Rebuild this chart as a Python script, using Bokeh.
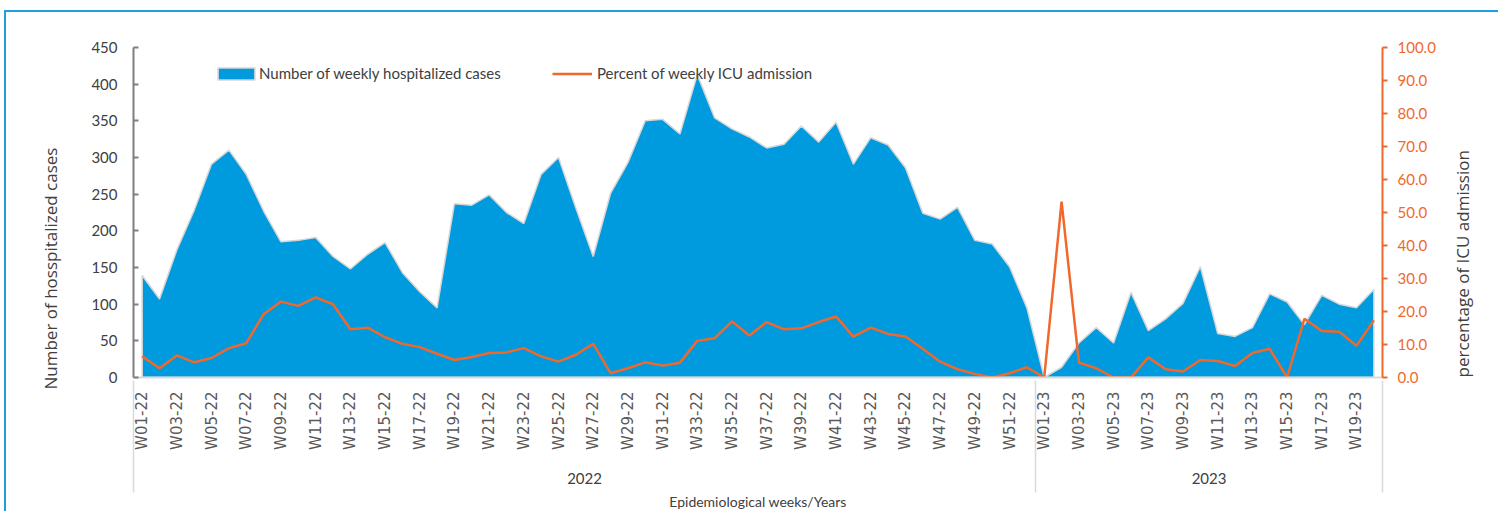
import math
from bokeh.plotting import figure
from bokeh.models import (Range1d, LinearAxis, FixedTicker, NumeralTickFormatter,
                          Legend, LegendItem, Title)
from bokeh.embed import file_html
from bokeh.resources import INLINE

# ---------------- data ----------------
weeks_2022 = ["W%02d-22" % i for i in range(1, 53)]
weeks_2023 = ["W%02d-23" % i for i in range(1, 21)]
years = ["2022", "2023"]

cases_2022 = [139, 107, 174, 228, 291, 310, 277, 227, 185, 187, 191, 165, 148, 168, 184, 143,
              117, 95, 237, 235, 249, 225, 210, 277, 300, 231, 165, 251, 293, 350, 352, 332,
              413, 354, 339, 328, 313, 318, 343, 321, 348, 291, 327, 317, 286, 224, 216, 232,
              187, 182, 151, 95]
cases_2023 = [0, 14, 47, 68, 47, 116, 64, 80, 101, 151, 60, 56, 68, 114, 103, 72, 112, 100, 95, 120]

icu_pct_2022 = [6.4, 2.8, 6.7, 4.6, 5.9, 8.9, 10.4, 19.2, 23.0, 21.7, 24.3, 22.2, 14.6, 15.1, 12.2,
                10.2, 9.2, 7.2, 5.3, 6.2, 7.4, 7.6, 8.9, 6.4, 4.8, 6.9, 10.2, 1.3, 2.8, 4.6, 3.6,
                4.5, 11.1, 11.9, 17.0, 12.7, 16.8, 14.6, 14.9, 16.8, 18.5, 12.4, 15.1, 13.2, 12.4,
                8.7, 4.8, 2.5, 1.1, 0.0, 1.3, 3.1]
icu_pct_2023 = [0.0, 53.3, 4.5, 2.8, 0.0, 0.0, 6.1, 2.5, 1.8, 5.3, 5.0, 3.5, 7.4, 8.7, 0.0, 17.8,
                14.1, 13.9, 9.6, 17.3]

left_ticks = [0, 50, 100, 150, 200, 250, 300, 350, 400, 450]
right_ticks = [0, 10, 20, 30, 40, 50, 60, 70, 80, 90, 100]

# ---------------- derived ----------------
weeks = weeks_2022 + weeks_2023
cases = cases_2022 + cases_2023
icu = icu_pct_2022 + icu_pct_2023
idx = list(range(len(weeks)))
n22 = len(weeks_2022)
n = len(weeks)

BLUE = "#009BDE"
ORANGE = "#F0682C"
GREY_TXT = "#404040"
NARROW = "Lato"

p = figure(width=1494, height=501, x_range=Range1d(-0.5, n - 0.5), y_range=Range1d(0, 450),
           output_backend="svg", toolbar_location=None,
           min_border_left=127, min_border_right=118, min_border_top=35, min_border_bottom=136)
p.extra_y_ranges = {"pct": Range1d(0, 100)}
p.grid.visible = False
p.outline_line_color = None
p.background_fill_color = "white"
p.styles = {"border-top": "2px solid #1BA1E2", "border-left": "2px solid #1BA1E2",
            "margin-top": "10px", "margin-left": "4px"}

# area
area = p.patch(idx + [idx[-1], idx[0]], cases + [0, 0], fill_color=BLUE,
               line_color="#D6D6D6", line_width=1.5)
# line
ln = p.line(idx, icu, y_range_name="pct", line_color=ORANGE, line_width=2.5)

# week axis (bottom, first level)
xa = p.xaxis[0]
even = list(range(0, n, 2))
xa.ticker = FixedTicker(ticks=even, minor_ticks=[])
xa.major_label_overrides = {i: weeks[i] for i in even}
xa.major_label_orientation = math.pi / 2
xa.major_tick_line_color = None
xa.minor_tick_line_color = None
xa.major_tick_out = 0
xa.major_tick_in = 0
xa.minor_tick_in = 0
xa.minor_tick_out = 0
xa.axis_line_color = "#D9D9D9"
xa.axis_line_width = 2
xa.major_label_standoff = 14
xa.major_label_text_font = "DejaVu Sans"
xa.major_label_text_font_size = "15px"
xa.major_label_text_color = "#595959"

# year axis (bottom, second level) -- its minor ticks draw the group separators
year_pos = [(n22 - 1) / 2, n22 + (n - n22 - 1) / 2]
ya2 = LinearAxis(ticker=FixedTicker(ticks=year_pos, minor_ticks=[-0.499, n22 - 0.5, n - 0.501]),
                 major_label_overrides={year_pos[0]: years[0], year_pos[1]: years[1]},
                 axis_line_color=None, major_tick_line_color=None,
                 minor_tick_line_color="#D9D9D9", minor_tick_line_width=1.5,
                 minor_tick_in=72, minor_tick_out=40,
                 major_tick_out=0, major_tick_in=0, major_label_standoff=-20,
                 major_label_text_font=NARROW, major_label_text_font_size="15px",
                 major_label_text_color=GREY_TXT,
                 axis_label="Epidemiological weeks/Years", axis_label_standoff=6,
                 axis_label_text_font=NARROW, axis_label_text_font_size="14px",
                 axis_label_text_font_style="normal", axis_label_text_color=GREY_TXT)
p.add_layout(ya2, "below")

# left axis
la = p.yaxis[0]
la.ticker = FixedTicker(ticks=left_ticks, minor_ticks=[])
la.major_tick_in = 5
la.major_tick_out = 0
la.axis_line_color = "#7F7F7F"
la.axis_line_width = 2
la.major_tick_line_color = "#7F7F7F"
la.major_tick_line_width = 2
la.major_label_standoff = 16
la.major_label_text_font = NARROW
la.major_label_text_font_size = "15px"
la.major_label_text_color = GREY_TXT

# right axis
ra = LinearAxis(y_range_name="pct", ticker=FixedTicker(ticks=right_ticks, minor_ticks=[]),
                formatter=NumeralTickFormatter(format="0.0"),
                major_tick_in=0, major_tick_out=5, axis_line_color=ORANGE, axis_line_width=2,
                major_tick_line_color=ORANGE, major_tick_line_width=2, major_label_standoff=10,
                major_label_text_font=NARROW, major_label_text_font_size="15px",
                major_label_text_color=ORANGE,
                axis_label="percentage of ICU admission", axis_label_standoff=24,
                axis_label_text_font="Open Sans", axis_label_text_font_size="17px",
                axis_label_text_font_style="normal", axis_label_text_color=GREY_TXT)
try:
    ra.axis_label_align = "start"
    ra.axis_label_orientation = math.pi / 2
except Exception:
    pass
p.add_layout(ra, "right")

# left title (placed as a side title so it can be offset along the axis)
p.add_layout(Title(text="Number of hosspitalized cases", align="left", offset=-12,
                   standoff=54, text_font="Open Sans", text_font_size="17px",
                   text_font_style="normal", text_color=GREY_TXT), "left")

# legends
common = dict(padding=0, margin=0, border_line_color=None, background_fill_alpha=0,
              label_text_font=NARROW, label_text_font_size="15px", label_text_color=GREY_TXT,
              glyph_height=15, label_height=15, orientation="horizontal")
lg1 = Legend(items=[LegendItem(label="Number of weekly hospitalized cases", renderers=[area])],
             location=(80, 295), glyph_width=46, label_standoff=0, **common)
lg2 = Legend(items=[LegendItem(label="Percent of weekly ICU admission", renderers=[ln])],
             location=(419, 295), glyph_width=40, label_standoff=5, **common)
p.add_layout(lg1, "center")
p.add_layout(lg2, "center")

open("out.html", "w").write(file_html(p, INLINE))
